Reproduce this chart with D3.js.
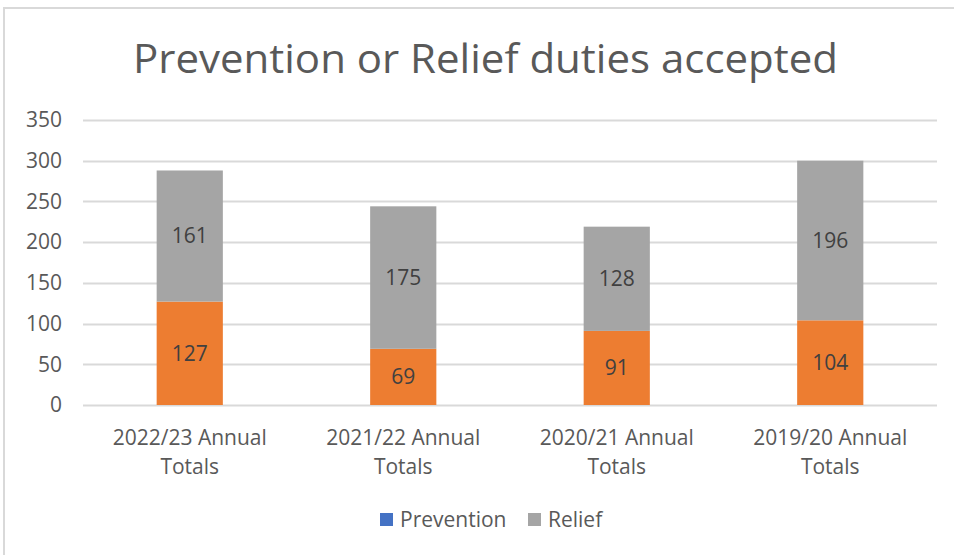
<!DOCTYPE html>
<html>
<head>
<meta charset="utf-8">
<script src="https://cdn.jsdelivr.net/npm/d3@7"></script>
<style>
  html, body { margin: 0; padding: 0; background: #fff; }
  svg { display: block; font-family: "Open Sans", "Noto Sans", sans-serif; }
</style>
</head>
<body>
<svg id="chart" width="954" height="555"></svg>
<script>
// Annual totals of duties accepted, split into prevention and relief
const categories = ["2022/23 Annual Totals", "2021/22 Annual Totals", "2020/21 Annual Totals", "2019/20 Annual Totals"];
const prevention = [127, 69, 91, 104];
const relief = [161, 175, 128, 196];
const yTicks = [0, 50, 100, 150, 200, 250, 300, 350];
const seriesNames = ["Prevention", "Relief"];

(function () {
const svg = d3.select("#chart");
const W = 954, H = 555;
const FS = 21;

// chart area frame (top and left edges)
svg.append("line").attr("x1", 3).attr("x2", W).attr("y1", 8).attr("y2", 8)
  .attr("stroke", "#d9d9d9").attr("stroke-width", 2);
svg.append("line").attr("x1", 4).attr("x2", 4).attr("y1", 7).attr("y2", H)
  .attr("stroke", "#d9d9d9").attr("stroke-width", 2);

// title
svg.append("text")
  .attr("x", 485.5).attr("y", 73)
  .attr("text-anchor", "middle")
  .attr("font-size", 41)
  .attr("fill", "#595959")
  .attr("textLength", 705)
  .attr("lengthAdjust", "spacingAndGlyphs")
  .text("Prevention or Relief duties accepted");

const plotLeft = 83, plotRight = 937, plotTop = 120, plotBottom = 405;

const x = d3.scaleBand().domain(categories).range([plotLeft, plotRight]).paddingInner(0.69).paddingOuter(0.345);
const y = d3.scaleLinear().domain([0, 350]).range([plotBottom, plotTop]);

// gridlines
svg.append("g")
  .selectAll("line").data(yTicks).join("line")
  .attr("x1", plotLeft).attr("x2", plotRight)
  .attr("y1", d => Math.round(y(d)) + 0.5).attr("y2", d => Math.round(y(d)) + 0.5)
  .attr("stroke", "#d9d9d9").attr("stroke-width", 2);

// y axis labels
const yAxis = svg.append("g")
  .attr("transform", `translate(${plotLeft},0)`)
  .call(d3.axisLeft(y).tickValues(yTicks).tickSize(0).tickPadding(21));
yAxis.select(".domain").remove();
yAxis.selectAll("text")
  .attr("font-size", FS).attr("fill", "#595959")
  .attr("font-family", "'Open Sans', sans-serif");

// stacked data
const rows = categories.map((c, i) => ({ cat: c, Prevention: prevention[i], Relief: relief[i] }));
const stack = d3.stack().keys(seriesNames)(rows);
const barColors = { Prevention: "#ED7D31", Relief: "#A5A5A5" };

const layers = svg.append("g").selectAll("g").data(stack).join("g")
  .attr("fill", d => barColors[d.key]);
layers.selectAll("rect").data(d => d).join("rect")
  .attr("x", d => x(d.data.cat))
  .attr("width", x.bandwidth())
  .attr("y", d => y(d[1]))
  .attr("height", d => y(d[0]) - y(d[1]));

// value labels in each segment
const labels = svg.append("g");
stack.forEach(layer => {
  labels.selectAll(null).data(layer).join("text")
    .attr("x", d => x(d.data.cat) + x.bandwidth() / 2)
    .attr("y", d => (y(d[0]) + y(d[1])) / 2)
    .attr("dy", "0.35em")
    .attr("text-anchor", "middle")
    .attr("font-size", FS)
    .attr("fill", "#404040")
    .text(d => d.data[layer.key]);
});

// category labels (two lines)
const xLab = svg.append("g");
categories.forEach(c => {
  const words = c.split(" ");
  const cx = x(c) + x.bandwidth() / 2;
  const t = xLab.append("text")
    .attr("text-anchor", "middle")
    .attr("font-size", FS)
    .attr("fill", "#595959");
  t.append("tspan").attr("x", cx).attr("y", 445).text(words[0] + " " + words[1]);
  t.append("tspan").attr("x", cx).attr("y", 474).text(words.slice(2).join(" "));
});

// legend
const legendColors = ["#4472C4", "#A5A5A5"];
const legendX = [380, 528];
const lg = svg.append("g");
seriesNames.forEach((n, i) => {
  lg.append("rect").attr("x", legendX[i]).attr("y", 513).attr("width", 13).attr("height", 13).attr("fill", legendColors[i]);
  lg.append("text").attr("x", legendX[i] + 20).attr("y", 527)
    .attr("font-size", FS).attr("fill", "#595959").text(n);
});
})();
</script>
</body>
</html>
